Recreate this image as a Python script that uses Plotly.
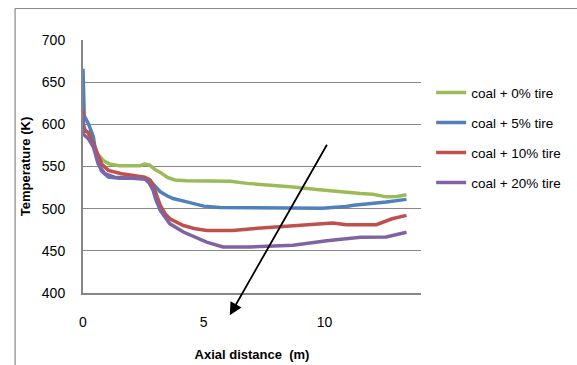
import plotly.graph_objects as go

# Axial distance (m) / Temperature (K) for each case
x_0 = [0.0, 0.2, 0.4, 0.6, 0.85, 1.1, 1.5, 2.0, 2.37, 2.55, 2.75, 3.0, 3.2, 3.5, 3.8, 4.3, 5.0, 6.1, 6.8, 7.6, 8.7, 9.8, 10.6, 11.5, 12.0, 12.56, 13.0, 13.4]
t_0 = [596, 590, 578, 565, 557, 553, 551, 551, 551, 553, 552, 546, 543, 537, 534, 533, 532.5, 532.5, 530, 528.5, 525.6, 522.5, 520, 518, 517, 514, 514.5, 516.5]

x_5 = [0.0, 0.02, 0.05, 0.22, 0.35, 0.43, 0.56, 0.76, 1.05, 1.5, 2.0, 2.5, 2.7, 2.78, 3.0, 3.2, 3.5, 3.73, 4.3, 5.0, 5.67, 7.0, 8.0, 9.9, 10.9, 11.2, 12.56, 13.4]
t_5 = [666, 640, 610, 601, 592, 585, 561, 545, 537.5, 536, 536, 536, 535, 533, 526, 520, 515, 512, 508, 503, 501.5, 501, 500.5, 500.5, 502.5, 504, 507.8, 511]

x_10 = [0.0, 0.03, 0.1, 0.22, 0.35, 0.5, 0.77, 1.05, 1.6, 2.0, 2.56, 2.78, 2.9, 3.0, 3.2, 3.4, 3.6, 4.16, 4.6, 5.12, 6.2, 6.9, 7.67, 8.7, 10.35, 10.9, 12.15, 12.8, 13.4]
t_10 = [618, 598, 592, 590.5, 582, 573, 553, 545.4, 541.4, 539.5, 537.4, 534, 528, 520, 504, 494, 488, 480, 476.5, 474, 474, 476, 477.5, 480, 483, 481, 481, 488, 492]

x_20 = [0.0, 0.02, 0.22, 0.43, 0.63, 0.9, 1.3, 2.0, 2.56, 2.75, 2.9, 3.0, 3.2, 3.6, 4.16, 5.12, 5.8, 6.9, 7.67, 8.7, 10.1, 11.5, 12.56, 13.4]
t_20 = [612, 588, 583, 573, 553, 541.4, 537.4, 536, 535.5, 530, 522, 512, 498, 482, 472.3, 460.4, 454.5, 454.5, 455, 456.5, 462, 466, 466.5, 472]

names = ["coal + 0% tire", "coal + 5% tire", "coal + 10% tire", "coal + 20% tire"]
colors = ["#9BBB59", "#4F81BD", "#C0504D", "#8064A2"]
xs = [x_0, x_5, x_10, x_20]
ts = [t_0, t_5, t_10, t_20]

x_ticks = [0, 5, 10]
y_ticks = [400, 450, 500, 550, 600, 650, 700]

fig = go.Figure()
for i, (xv, tv) in enumerate(zip(xs, ts)):
    fig.add_trace(go.Scatter(
        x=xv, y=tv, mode="lines", name=names[i], legendgroup=str(i),
        line=dict(color=colors[i], width=3.5),
    ))

gray = "#878787"
W, L, R, T, B = 577, 83, 155.5, 39.5, 72.3
pw = W - L - R
ph = 365 - T - B


def px_x(p):
    return (p - L) / pw


def px_y(p):
    return (365 - B - p) / ph


fig.update_layout(
    width=577, height=365,
    margin=dict(l=L, r=R, t=T, b=B, autoexpand=False),
    paper_bgcolor="white", plot_bgcolor="white",
    font=dict(family="Liberation Sans, Arial, sans-serif", size=14, color="#000000"),
    showlegend=True,
    legend=dict(x=1.03, y=0.853, xanchor="left", yanchor="top",
                font=dict(size=13.5), tracegroupgap=9.5,
                bgcolor="rgba(0,0,0,0)"),
    xaxis=dict(range=[0, 14], tickvals=x_ticks, showgrid=False, zeroline=False,
               showline=True, linecolor=gray, linewidth=2, ticks="",
               ticklabelstandoff=15, automargin=False,
               title=dict(text="<b>Axial distance  (m)</b>", font=dict(size=13), standoff=21)),
    yaxis=dict(range=[400, 700], tickvals=y_ticks, showgrid=True, gridcolor=gray,
               gridwidth=1, zeroline=False, showline=True, linecolor=gray,
               linewidth=2, ticks="", ticklabelstandoff=13, automargin=False,
               title=dict(text="<b>Temperature (K)</b>", font=dict(size=13), standoff=8)),
    shapes=[
        dict(type="line", xref="paper", yref="paper",
             x0=px_x(15), x1=px_x(15), y0=px_y(8), y1=px_y(370),
             line=dict(color=gray, width=1.2), layer="above"),
        dict(type="line", xref="paper", yref="paper",
             x0=px_x(15), x1=px_x(580), y0=px_y(8), y1=px_y(8),
             line=dict(color=gray, width=1.2), layer="above"),
    ],
    annotations=[dict(x=px_x(230), y=px_y(315), xref="paper", yref="paper",
                      ax=98, ay=-172, axref="pixel", ayref="pixel", text="",
                      showarrow=True, arrowhead=2, arrowsize=1.4, arrowwidth=1.8,
                      arrowcolor="#000000")],
)

fig.write_html("out.html")
